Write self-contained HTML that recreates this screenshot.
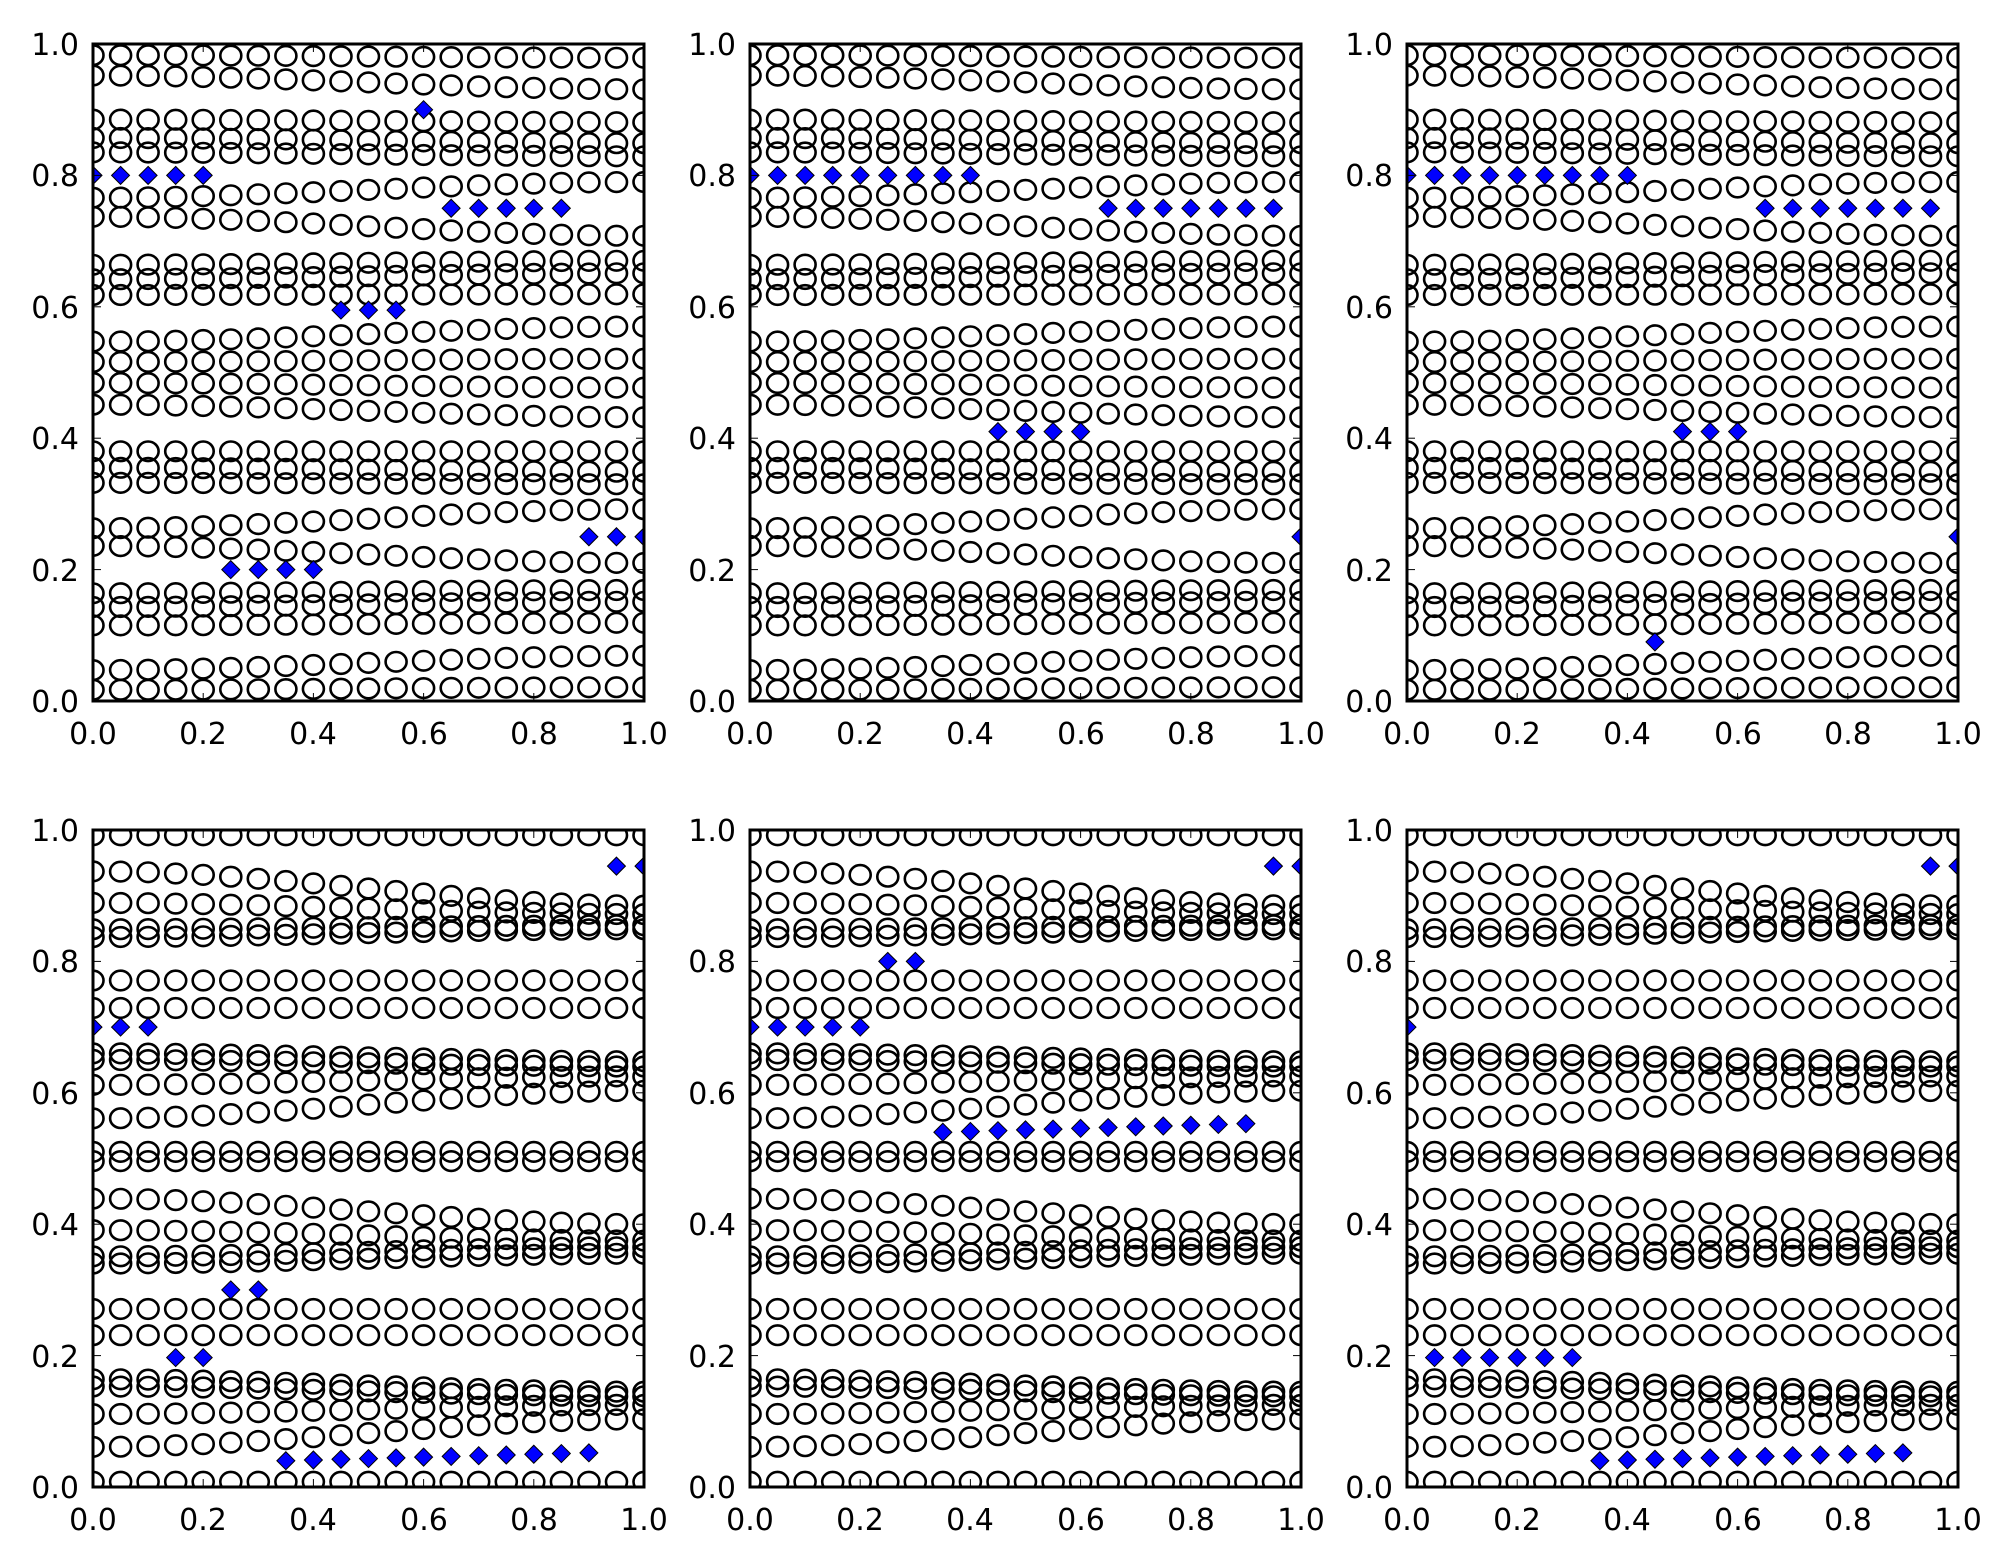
<!DOCTYPE html>
<html><head><meta charset="utf-8"><style>
html,body{margin:0;padding:0;background:#fff}
svg{display:block}
text{font-family:"DejaVu Sans","Liberation Sans",sans-serif;font-size:30px;fill:#000}
</style></head><body>
<svg id="s" width="2004" height="1565" xmlns="http://www.w3.org/2000/svg">
<defs><clipPath id="c"><rect x="0" y="0" width="551" height="657"/></clipPath></defs>
<g id="p0" transform="translate(93,44)"><g><text x="-14" y="668" text-anchor="end">0.0</text><text x="-14" y="537" text-anchor="end">0.2</text><text x="-14" y="405" text-anchor="end">0.4</text><text x="-14" y="274" text-anchor="end">0.6</text><text x="-14" y="142" text-anchor="end">0.8</text><text x="-14" y="11" text-anchor="end">1.0</text></g><g><text x="0" y="700" text-anchor="middle">0.0</text><text x="110" y="700" text-anchor="middle">0.2</text><text x="220" y="700" text-anchor="middle">0.4</text><text x="331" y="700" text-anchor="middle">0.6</text><text x="441" y="700" text-anchor="middle">0.8</text><text x="551" y="700" text-anchor="middle">1.0</text></g></g>
<g id="p1" transform="translate(750,44)"><g><text x="-14" y="668" text-anchor="end">0.0</text><text x="-14" y="537" text-anchor="end">0.2</text><text x="-14" y="405" text-anchor="end">0.4</text><text x="-14" y="274" text-anchor="end">0.6</text><text x="-14" y="142" text-anchor="end">0.8</text><text x="-14" y="11" text-anchor="end">1.0</text></g><g><text x="0" y="700" text-anchor="middle">0.0</text><text x="110" y="700" text-anchor="middle">0.2</text><text x="220" y="700" text-anchor="middle">0.4</text><text x="331" y="700" text-anchor="middle">0.6</text><text x="441" y="700" text-anchor="middle">0.8</text><text x="551" y="700" text-anchor="middle">1.0</text></g></g>
<g id="p2" transform="translate(1407,44)"><g><text x="-14" y="668" text-anchor="end">0.0</text><text x="-14" y="537" text-anchor="end">0.2</text><text x="-14" y="405" text-anchor="end">0.4</text><text x="-14" y="274" text-anchor="end">0.6</text><text x="-14" y="142" text-anchor="end">0.8</text><text x="-14" y="11" text-anchor="end">1.0</text></g><g><text x="0" y="700" text-anchor="middle">0.0</text><text x="110" y="700" text-anchor="middle">0.2</text><text x="220" y="700" text-anchor="middle">0.4</text><text x="331" y="700" text-anchor="middle">0.6</text><text x="441" y="700" text-anchor="middle">0.8</text><text x="551" y="700" text-anchor="middle">1.0</text></g></g>
<g id="p3" transform="translate(93,830)"><g><text x="-14" y="668" text-anchor="end">0.0</text><text x="-14" y="537" text-anchor="end">0.2</text><text x="-14" y="405" text-anchor="end">0.4</text><text x="-14" y="274" text-anchor="end">0.6</text><text x="-14" y="142" text-anchor="end">0.8</text><text x="-14" y="11" text-anchor="end">1.0</text></g><g><text x="0" y="700" text-anchor="middle">0.0</text><text x="110" y="700" text-anchor="middle">0.2</text><text x="220" y="700" text-anchor="middle">0.4</text><text x="331" y="700" text-anchor="middle">0.6</text><text x="441" y="700" text-anchor="middle">0.8</text><text x="551" y="700" text-anchor="middle">1.0</text></g></g>
<g id="p4" transform="translate(750,830)"><g><text x="-14" y="668" text-anchor="end">0.0</text><text x="-14" y="537" text-anchor="end">0.2</text><text x="-14" y="405" text-anchor="end">0.4</text><text x="-14" y="274" text-anchor="end">0.6</text><text x="-14" y="142" text-anchor="end">0.8</text><text x="-14" y="11" text-anchor="end">1.0</text></g><g><text x="0" y="700" text-anchor="middle">0.0</text><text x="110" y="700" text-anchor="middle">0.2</text><text x="220" y="700" text-anchor="middle">0.4</text><text x="331" y="700" text-anchor="middle">0.6</text><text x="441" y="700" text-anchor="middle">0.8</text><text x="551" y="700" text-anchor="middle">1.0</text></g></g>
<g id="p5" transform="translate(1407,830)"><g><text x="-14" y="668" text-anchor="end">0.0</text><text x="-14" y="537" text-anchor="end">0.2</text><text x="-14" y="405" text-anchor="end">0.4</text><text x="-14" y="274" text-anchor="end">0.6</text><text x="-14" y="142" text-anchor="end">0.8</text><text x="-14" y="11" text-anchor="end">1.0</text></g><g><text x="0" y="700" text-anchor="middle">0.0</text><text x="110" y="700" text-anchor="middle">0.2</text><text x="220" y="700" text-anchor="middle">0.4</text><text x="331" y="700" text-anchor="middle">0.6</text><text x="441" y="700" text-anchor="middle">0.8</text><text x="551" y="700" text-anchor="middle">1.0</text></g></g>
</svg>
<script>
var NS="http://www.w3.org/2000/svg",W=551,H=657;
var topRows=[[.983,.979],[.952,.931],[.885,.881],[.857,.849],[.835,.829],[.766,.79],[.737,.708],[.664,.67],[.642,.651],[.618,.619],[.547,.57],[.516,.521],[.484,.477],[.451,.432],[.38,.38],[.355,.349],[.332,.33],[.263,.292],[.236,.21],[.164,.169],[.143,.151],[.115,.119],[.047,.069],[.017,.021]];
var botRows=[[.992,.992],[.937,.885],[.889,.872],[.849,.855],[.837,.849],[.771,.771],[.729,.729],[.66,.648],[.65,.64],[.612,.625],[.561,.603],[.51,.51],[.496,.496],[.439,.4],[.391,.375],[.351,.365],[.34,.355],[.271,.271],[.231,.231],[.164,.145],[.153,.138],[.111,.125],[.061,.103],[.008,.008]];
function rng(a,b,y){var r=[];for(var i=a;i<=b+1e-9;i+=0.05)r.push([i,y]);return r;}
function rise(a,b,y0,y1){var r=[],n=Math.round((b-a)/0.05);for(var k=0;k<=n;k++)r.push([a+k*0.05,y0+(y1-y0)*k/n]);return r;}
var dia=[
 [[0.6,0.9]].concat(rng(0,0.2,0.8),rng(0.65,0.85,0.75),rng(0.45,0.55,0.595),rng(0.25,0.4,0.2),rng(0.9,1,0.25)),
 rng(0,0.4,0.8).concat(rng(0.65,0.95,0.75),rng(0.45,0.6,0.41),[[1,0.25]]),
 rng(0,0.4,0.8).concat(rng(0.65,0.95,0.75),rng(0.5,0.6,0.41),[[0.45,0.09],[1,0.25]]),
 rng(0.95,1,0.945).concat(rng(0,0.1,0.7),rng(0.25,0.3,0.3),rng(0.15,0.2,0.197),rise(0.35,0.9,0.04,0.052)),
 rng(0.95,1,0.945).concat(rng(0.25,0.3,0.8),rng(0,0.2,0.7),rise(0.35,0.9,0.54,0.553)),
 rng(0.95,1,0.945).concat([[0,0.7]],rng(0.05,0.3,0.197),rise(0.35,0.9,0.04,0.052))
];
function el(t,a,p){var e=document.createElementNS(NS,t);for(var k in a)e.setAttribute(k,a[k]);p.appendChild(e);return e;}
function smooth(t){return t*t*(3-2*t);}
for(var p=0;p<6;p++){
 var g=document.getElementById("p"+p);
 el("rect",{x:0,y:0,width:W,height:H,fill:"#fff"},g).parentNode.insertBefore(g.lastChild,g.firstChild);
 var cg=el("g",{"clip-path":"url(#c)"},g);
 var rows=p<3?topRows:botRows;
 for(var i=0;i<=20;i++){var x=i*0.05;
  rows.forEach(function(r){var y=r[0]+(r[1]-r[0])*smooth(x);
   el("ellipse",{cx:(x*W).toFixed(1),cy:(H*(1-y)).toFixed(1),rx:10.5,ry:9.8,fill:"none",stroke:"#000","stroke-width":2.6},cg);});}
 dia[p].forEach(function(d){var cx=d[0]*W,cy=H*(1-d[1]),s=9;
  el("polygon",{points:cx+","+(cy-s)+" "+(cx+s)+","+cy+" "+cx+","+(cy+s)+" "+(cx-s)+","+cy,fill:"#0000ff",stroke:"#000","stroke-width":1},cg);});
 for(var k=0;k<=5;k++){var t=k*0.2;
  var px=t*W,py=H*(1-t);
  el("line",{x1:px,y1:H,x2:px,y2:H-8,stroke:"#000","stroke-width":1},g);
  el("line",{x1:px,y1:0,x2:px,y2:8,stroke:"#000","stroke-width":1},g);
  el("line",{x1:0,y1:py,x2:8,y2:py,stroke:"#000","stroke-width":1},g);
  el("line",{x1:W,y1:py,x2:W-8,y2:py,stroke:"#000","stroke-width":1},g);}
 el("rect",{x:0,y:0,width:W,height:H,fill:"none",stroke:"#000","stroke-width":3},g);
}
</script>
</body></html>
